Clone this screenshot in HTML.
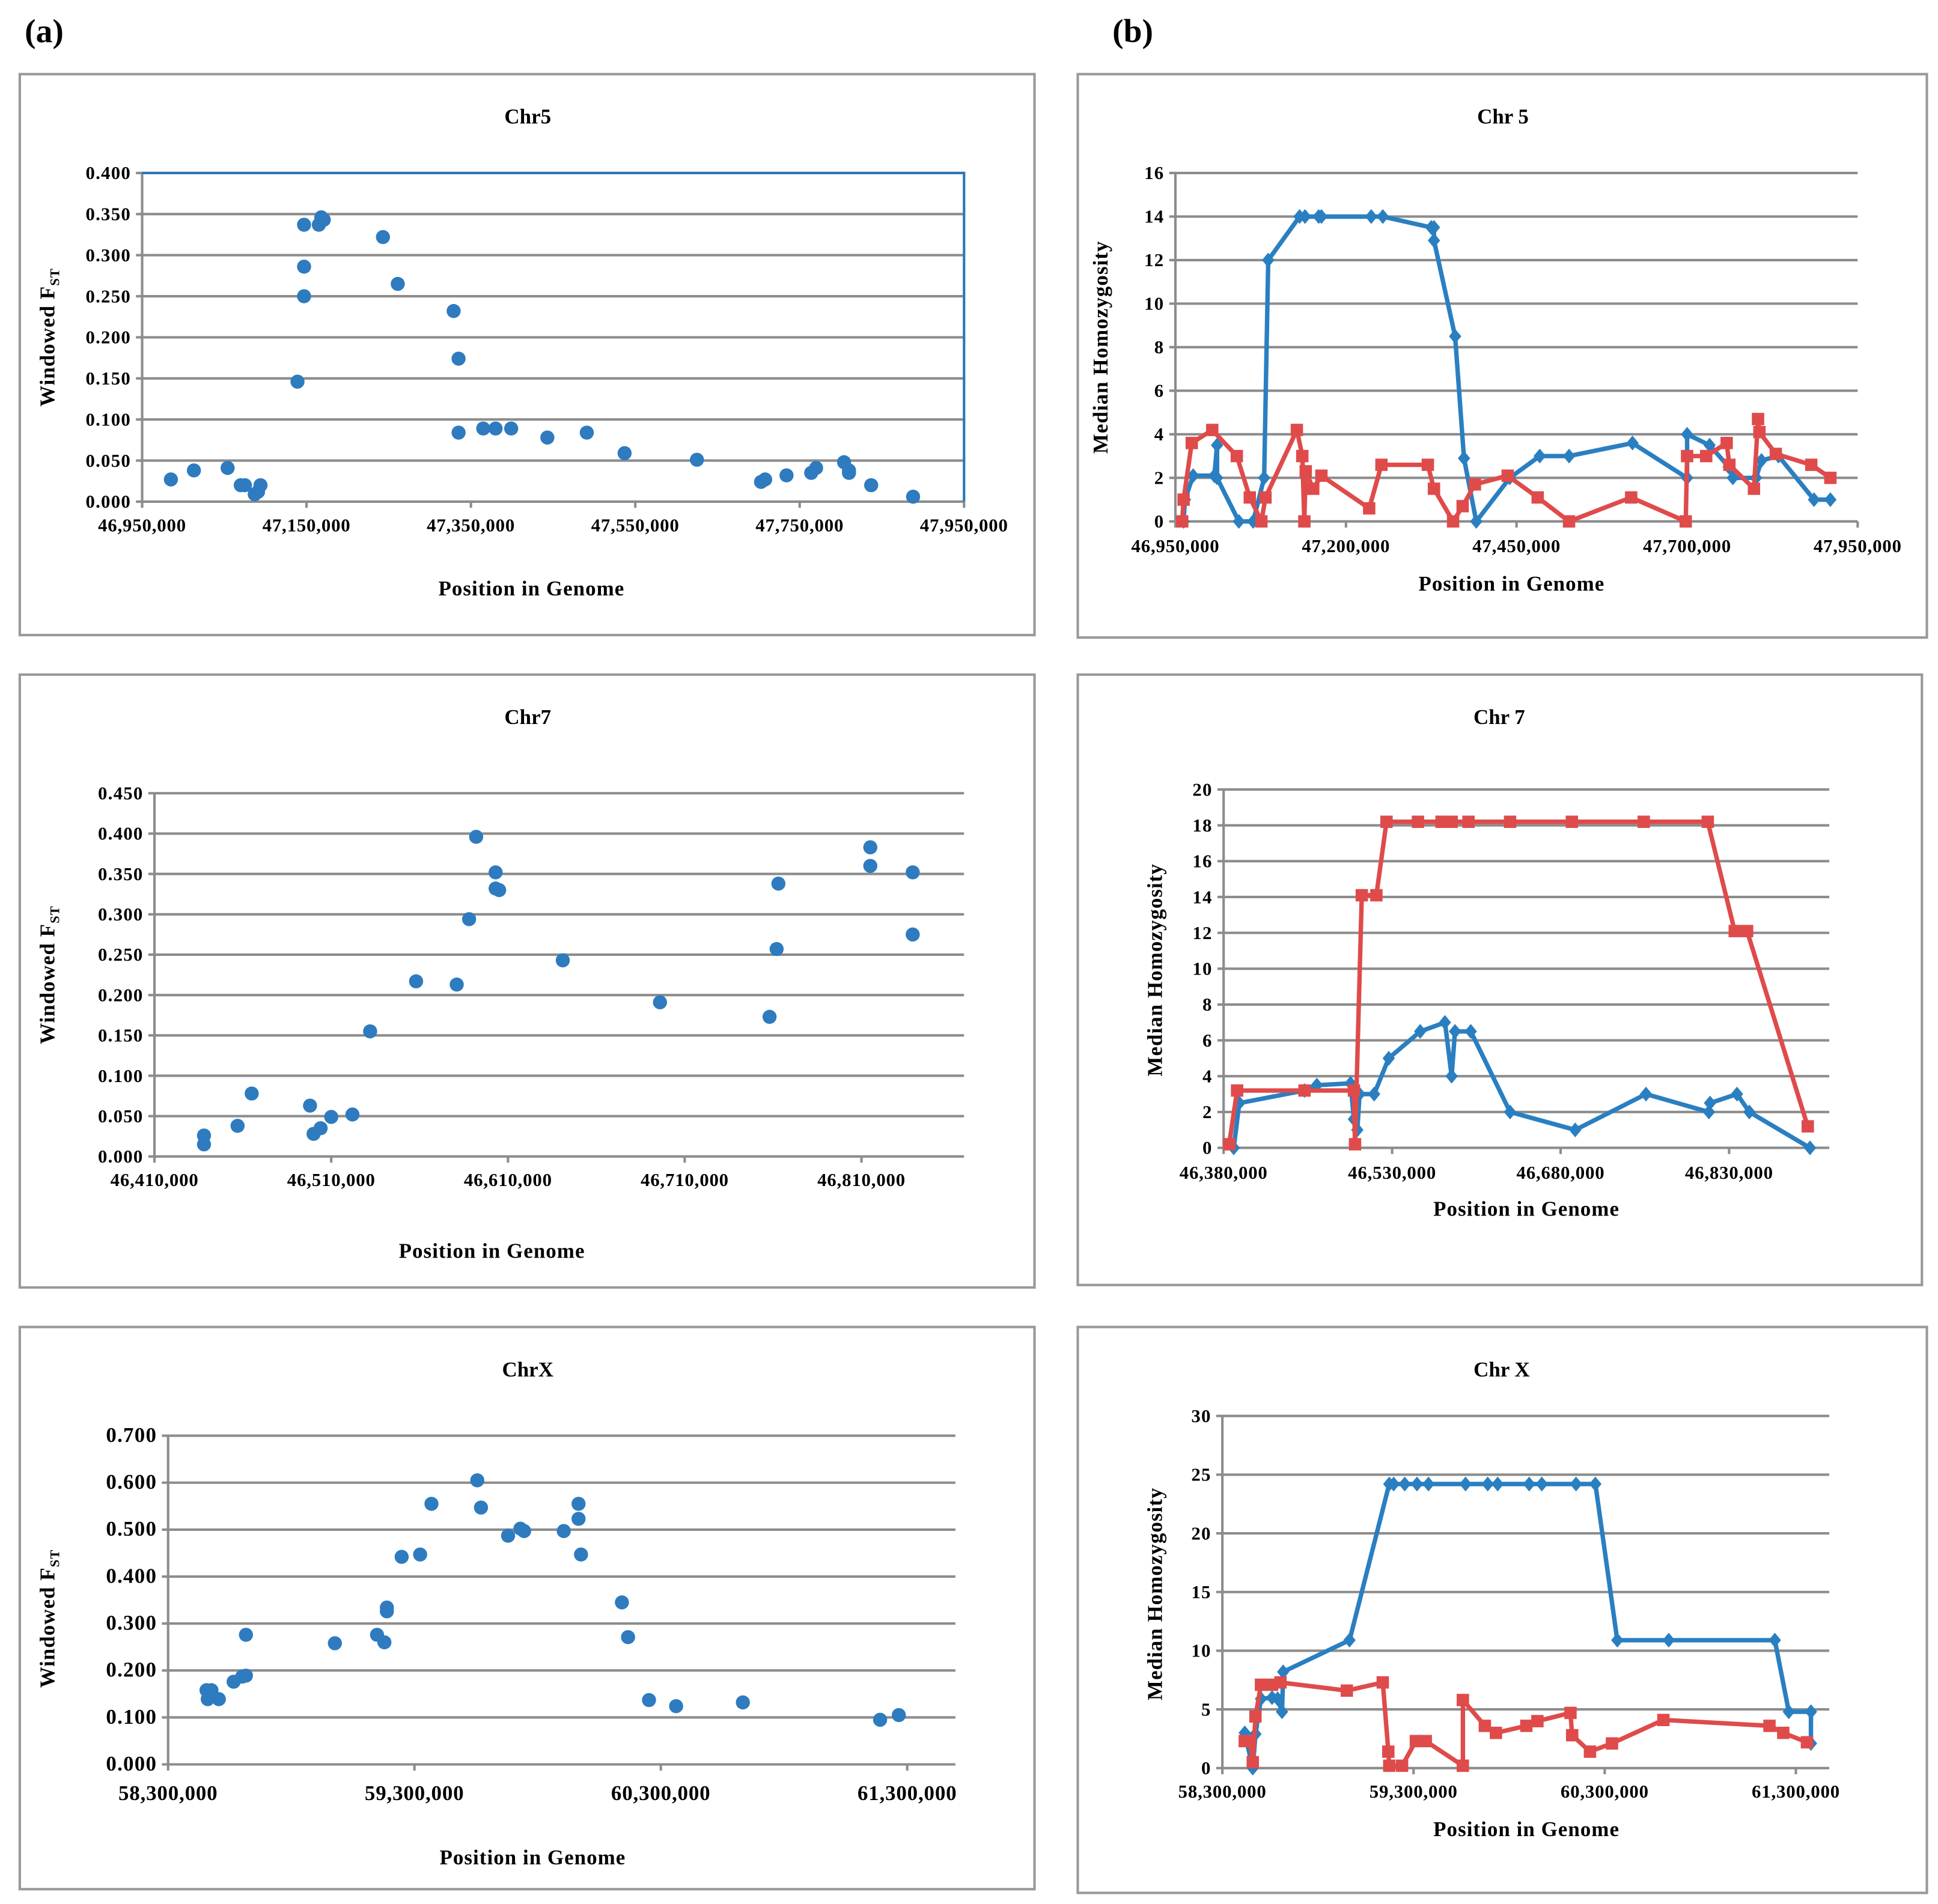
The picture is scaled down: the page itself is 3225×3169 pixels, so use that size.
<!DOCTYPE html>
<html><head><meta charset="utf-8"><style>
html,body{margin:0;padding:0;background:#fff;}
svg{display:block;font-family:"Liberation Serif",serif;font-weight:bold;}
</style></head><body>
<svg id="root" width="3225" height="3169" viewBox="0 0 1568 1541" preserveAspectRatio="none" xmlns="http://www.w3.org/2000/svg">
<rect width="1568" height="1541" fill="#fff"/>
<text x="20" y="34" font-size="27">(a)</text>
<text x="900" y="34" font-size="27">(b)</text>
</svg>
<script>
// ---------- DATA (x in thousands of bp) ----------
const a1X=[46985,47013,47054,47070,47075,47087,47091,47094,47139,47147,47147,47147,47165,47168,47171,47243,47261,47329,47335,47335,47365,47380,47399,47443,47491,47537,47625,47703,47708,47734,47764,47770,47804,47810,47810,47837,47888];
const a1Y=[.027,.038,.041,.020,.020,.009,.012,.020,.146,.337,.286,.250,.337,.346,.343,.322,.265,.232,.174,.084,.089,.089,.089,.078,.084,.059,.051,.024,.027,.032,.035,.041,.048,.035,.038,.020,.006];
const a1XTicks=[46950,47150,47350,47550,47750,47950];
const a1YTicks=[0,.05,.1,.15,.2,.25,.3,.35,.4];

const a2X=[46438,46438,46457,46465,46498,46500,46504,46510,46522,46532,46558,46581,46588,46592,46603,46603,46605,46641,46696,46758,46762,46763,46815,46815,46839,46839];
const a2Y=[.026,.015,.038,.078,.063,.028,.035,.049,.052,.155,.217,.213,.294,.396,.352,.332,.330,.243,.191,.173,.257,.338,.383,.360,.352,.275];
const a2XTicks=[46410,46510,46610,46710,46810];
const a2YTicks=[0,.05,.1,.15,.2,.25,.3,.35,.4,.45];

const a3X=[58456,58461,58476,58506,58566,58601,58616,58616,58977,59148,59178,59188,59188,59248,59323,59369,59555,59570,59680,59730,59745,59906,59966,59966,59976,60142,60167,60252,60362,60633,61190,61266];
const a3Y=[.158,.139,.158,.139,.176,.187,.189,.276,.258,.276,.260,.334,.326,.442,.447,.555,.605,.547,.487,.502,.497,.497,.555,.523,.447,.345,.271,.137,.124,.132,.095,.105];
const a3XTicks=[58300,59300,60300,61300];
const a3YTicks=[0,.1,.2,.3,.4,.5,.6,.7];

const b1BlueX=[46962,46964,46976,47007,47011,47011,47043,47064,47080,47086,47132,47140,47160,47164,47237,47254,47325,47329,47329,47360,47373,47391,47440,47484,47527,47620,47700,47700,47733,47761,47767,47801,47809,47834,47886,47910];
const b1BlueY=[0,1,2.1,2.1,3.5,2,0,0,2,12,14,14,14,14,14,14,13.5,13.5,12.9,8.5,2.9,0,2,3,3,3.6,2,4,3.5,2.5,2,2,2.8,3,1,1];
const b1RedX=[46960,46962,46974,47004,47040,47059,47076,47082,47128,47136,47139,47141,47152,47164,47234,47252,47320,47329,47357,47371,47389,47437,47481,47527,47618,47698,47700,47728,47758,47762,47798,47804,47806,47830,47882,47910];
const b1RedY=[0,1,3.6,4.2,3,1.1,0,1.1,4.2,3,0,2.3,1.5,2.1,0.6,2.6,2.6,1.5,0,0.7,1.7,2.1,1.1,0,1.1,0,3,3,3.6,2.6,1.5,4.7,4.1,3.1,2.6,2];
const b1XTicks=[46950,47200,47450,47700,47950];
const b1YTicks=[0,2,4,6,8,10,12,14,16];

const b2BlueX=[46389,46394,46452,46463,46493,46496,46499,46501,46514,46527,46555,46577,46583,46586,46600,46635,46693,46756,46812,46813,46837,46848,46902];
const b2BlueY=[0,2.5,3.2,3.5,3.6,1.6,1,3,3,5,6.5,7,4,6.5,6.5,2,1,3,2,2.5,3,2,0];
const b2RedX=[46385,46392,46452,46496,46497,46503,46516,46525,46553,46574,46583,46598,46635,46690,46754,46811,46835,46846,46900];
const b2RedY=[0.2,3.2,3.2,3.2,0.2,14.1,14.1,18.2,18.2,18.2,18.2,18.2,18.2,18.2,18.2,18.2,12.1,12.1,1.2];
const b2XTicks=[46380,46530,46680,46830];
const b2YTicks=[0,2,4,6,8,10,12,14,16,18,20];

const b3BlueX=[58417,58459,58473,58502,58560,58589,58612,58618,58965,59173,59196,59254,59318,59378,59572,59688,59740,59905,59971,60150,60251,60366,60635,61190,61263,61379,61379];
const b3BlueY=[3,0,2.9,5.9,6,5.9,4.8,8.2,10.9,24.2,24.2,24.2,24.2,24.2,24.2,24.2,24.2,24.2,24.2,24.2,24.2,10.9,10.9,10.9,4.8,4.8,2.1];
const b3RedX=[58417,58445,58459,58473,58502,58560,58604,58951,59139,59168,59173,59240,59312,59364,59558,59558,59673,59731,59890,59948,60121,60130,60223,60338,60607,61162,61234,61358];
const b3RedY=[2.3,2.3,0.5,4.4,7.1,7.1,7.3,6.6,7.3,1.4,0.2,0.2,2.3,2.3,0.2,5.8,3.6,3,3.6,4,4.7,2.8,1.4,2.1,4.1,3.6,3,2.2];
const b3XTicks=[58300,59300,60300,61300];
const b3YTicks=[0,5,10,15,20,25,30];

// ---------- RENDER ----------
const NS="http://www.w3.org/2000/svg";
const root=document.getElementById('root');
function mk(tag,attrs,parent,txt){const e=document.createElementNS(NS,tag);for(const k in attrs)e.setAttribute(k,attrs[k]);if(txt!==undefined)e.textContent=txt;(parent||root).appendChild(e);return e;}
const fmtX=v=>(v*1000).toLocaleString('en-US');
const BLUE="#2a7fc1",RED="#df4b4b",GRID="#8c8c8c";

function chart(c){
  const g=mk('g',{});
  
  
  const box=mk('rect',{x:c.box[0],y:c.box[1],width:c.box[2]-c.box[0],height:c.box[3]-c.box[1],fill:'none',stroke:'#999',"stroke-width":2},g);
  
  
  const [L,T,R,B]=c.plot;
  const xs=v=>L+(v-c.xmin)/(c.xmax-c.xmin)*(c.xr-L);
  const ys=v=>B-(v-c.ymin)/(c.ymax-c.ymin)*(B-T);
  c.yTicks.forEach(t=>{
    const y=ys(t);
    const gl=mk('line',{x1:L-5,x2:R,y1:y,y2:y,stroke:GRID,"stroke-width":2},g);
    
    
    const tl=mk('text',{x:L-9,y:y+5,"font-size":c.yfs,"letter-spacing":0.6,"text-anchor":"end"},g,c.yfmt(t));
    
    
  });
  const ax=mk('line',{x1:L,x2:L,y1:T,y2:B,stroke:GRID,"stroke-width":2},g);
  
  
  if(c.frame){
    const f=mk('polyline',{points:`${L},${T} ${R},${T} ${R},${B}`,fill:'none',stroke:'#2e75b6',"stroke-width":2},g);
    
    
  }
  c.xTicks.forEach(t=>{
    const x=xs(t);
    const tk=mk('line',{x1:x,x2:x,y1:B,y2:B+5,stroke:GRID,"stroke-width":2},g);
    
    
    const tl=mk('text',{x:x,y:B+c.xlo,"font-size":c.xfs,"letter-spacing":0.4,"text-anchor":"middle"},g,fmtX(t));
    
    
  });
  const ti=mk('text',{x:c.title[1],y:c.title[2],"font-size":17,"text-anchor":"middle"},g,c.title[0]);
  
  
  const xl=mk('text',{x:c.xlab[0],y:c.xlab[1],"font-size":17,"letter-spacing":0.5,"text-anchor":"middle"},g,'Position in Genome');
  
  
  const yl=mk('text',{transform:`translate(${c.ylab[0]},${c.ylab[1]}) rotate(-90)`,"font-size":17,"letter-spacing":0.5,"text-anchor":"middle"},g);
  
  
  if(c.fst){mk('tspan',{},yl,'Windowed F');mk('tspan',{"font-size":11,dy:4},yl,'ST');}
  else yl.textContent='Median Homozygosity';
  if(c.sx){
    c.sx.forEach((v,i)=>{
      const p=mk('circle',{cx:xs(v),cy:ys(c.sy[i]),r:5.7,fill:'#2e7bbf'},g);
      
      
    });
  }
  if(c.series){
    c.series.forEach(s=>{
      const pts=s.x.map((v,i)=>xs(v).toFixed(1)+','+ys(s.y[i]).toFixed(1)).join(' ');
      const ln=mk('polyline',{points:pts,fill:'none',stroke:s.color,"stroke-width":3.6,"stroke-linejoin":"round"},g);
      
      
      s.x.forEach((v,i)=>{
        const X=xs(v),Y=ys(s.y[i]);let m;
        if(s.marker==='diamond') m=mk('polygon',{points:`${X},${Y-6} ${X+5},${Y} ${X},${Y+6} ${X-5},${Y}`,fill:s.color},g);
        else m=mk('rect',{x:X-5,y:Y-5,width:10,height:10,fill:s.color},g);
        
        
      });
    });
  }
}
const f3=v=>v.toFixed(3);
chart({name:'chr5-fst-chart',box:[16,60,837,514],plot:[115,140,780,406],xmin:46950,xmax:47950,xr:780,ymin:0,ymax:.4,xTicks:a1XTicks,yTicks:a1YTicks,yfmt:f3,yfs:15,xfs:15,xlo:24,frame:true,title:['Chr5',427,100],xlab:[430,482],ylab:[44,273],fst:true,sx:a1X,sy:a1Y});
chart({name:'chr7-fst-chart',box:[16,546,837,1042],plot:[125,642,780,936],xmin:46410,xmax:46810,xr:697,ymin:0,ymax:.45,xTicks:a2XTicks,yTicks:a2YTicks,yfmt:f3,yfs:15,xfs:15,xlo:24,title:['Chr7',427,586],xlab:[398,1018],ylab:[44,789],fst:true,sx:a2X,sy:a2Y});
chart({name:'chrX-fst-chart',box:[16,1074,837,1529],plot:[136,1162,773,1428],xmin:58300,xmax:61300,xr:734,ymin:0,ymax:.7,xTicks:a3XTicks,yTicks:a3YTicks,yfmt:f3,yfs:17,xfs:17,xlo:29,title:['ChrX',427,1114],xlab:[431,1509],ylab:[44,1310],fst:true,sx:a3X,sy:a3Y});
const fi=v=>String(v);
chart({name:'chr5-homozygosity-chart',box:[872,60,1559,516],plot:[951,140,1503,422],xmin:46950,xmax:47950,xr:1503,ymin:0,ymax:16,xTicks:b1XTicks,yTicks:b1YTicks,yfmt:fi,yfs:15,xfs:15,xlo:25,title:['Chr 5',1216,100],xlab:[1223,478],ylab:[896,281],
  series:[{name:'blue-series',x:b1BlueX,y:b1BlueY,color:BLUE,marker:'diamond'},{name:'red-series',x:b1RedX,y:b1RedY,color:RED,marker:'square'}]});
chart({name:'chr7-homozygosity-chart',box:[872,546,1555,1040],plot:[990,639,1480,929],xmin:46380,xmax:46830,xr:1399,ymin:0,ymax:20,xTicks:b2XTicks,yTicks:b2YTicks,yfmt:fi,yfs:15,xfs:15,xlo:25,title:['Chr 7',1213,586],xlab:[1235,984],ylab:[940,785],
  series:[{name:'blue-series',x:b2BlueX,y:b2BlueY,color:BLUE,marker:'diamond'},{name:'red-series',x:b2RedX,y:b2RedY,color:RED,marker:'square'}]});
chart({name:'chrX-homozygosity-chart',box:[872,1074,1559,1532],plot:[989,1146,1480,1431],xmin:58300,xmax:61300,xr:1453,ymin:0,ymax:30,xTicks:b3XTicks,yTicks:b3YTicks,yfmt:fi,yfs:15,xfs:15,xlo:24,title:['Chr X',1215,1114],xlab:[1235,1486],ylab:[940,1290],
  series:[{name:'blue-series',x:b3BlueX,y:b3BlueY,color:BLUE,marker:'diamond'},{name:'red-series',x:b3RedX,y:b3RedY,color:RED,marker:'square'}]});
</script>
</body></html>
